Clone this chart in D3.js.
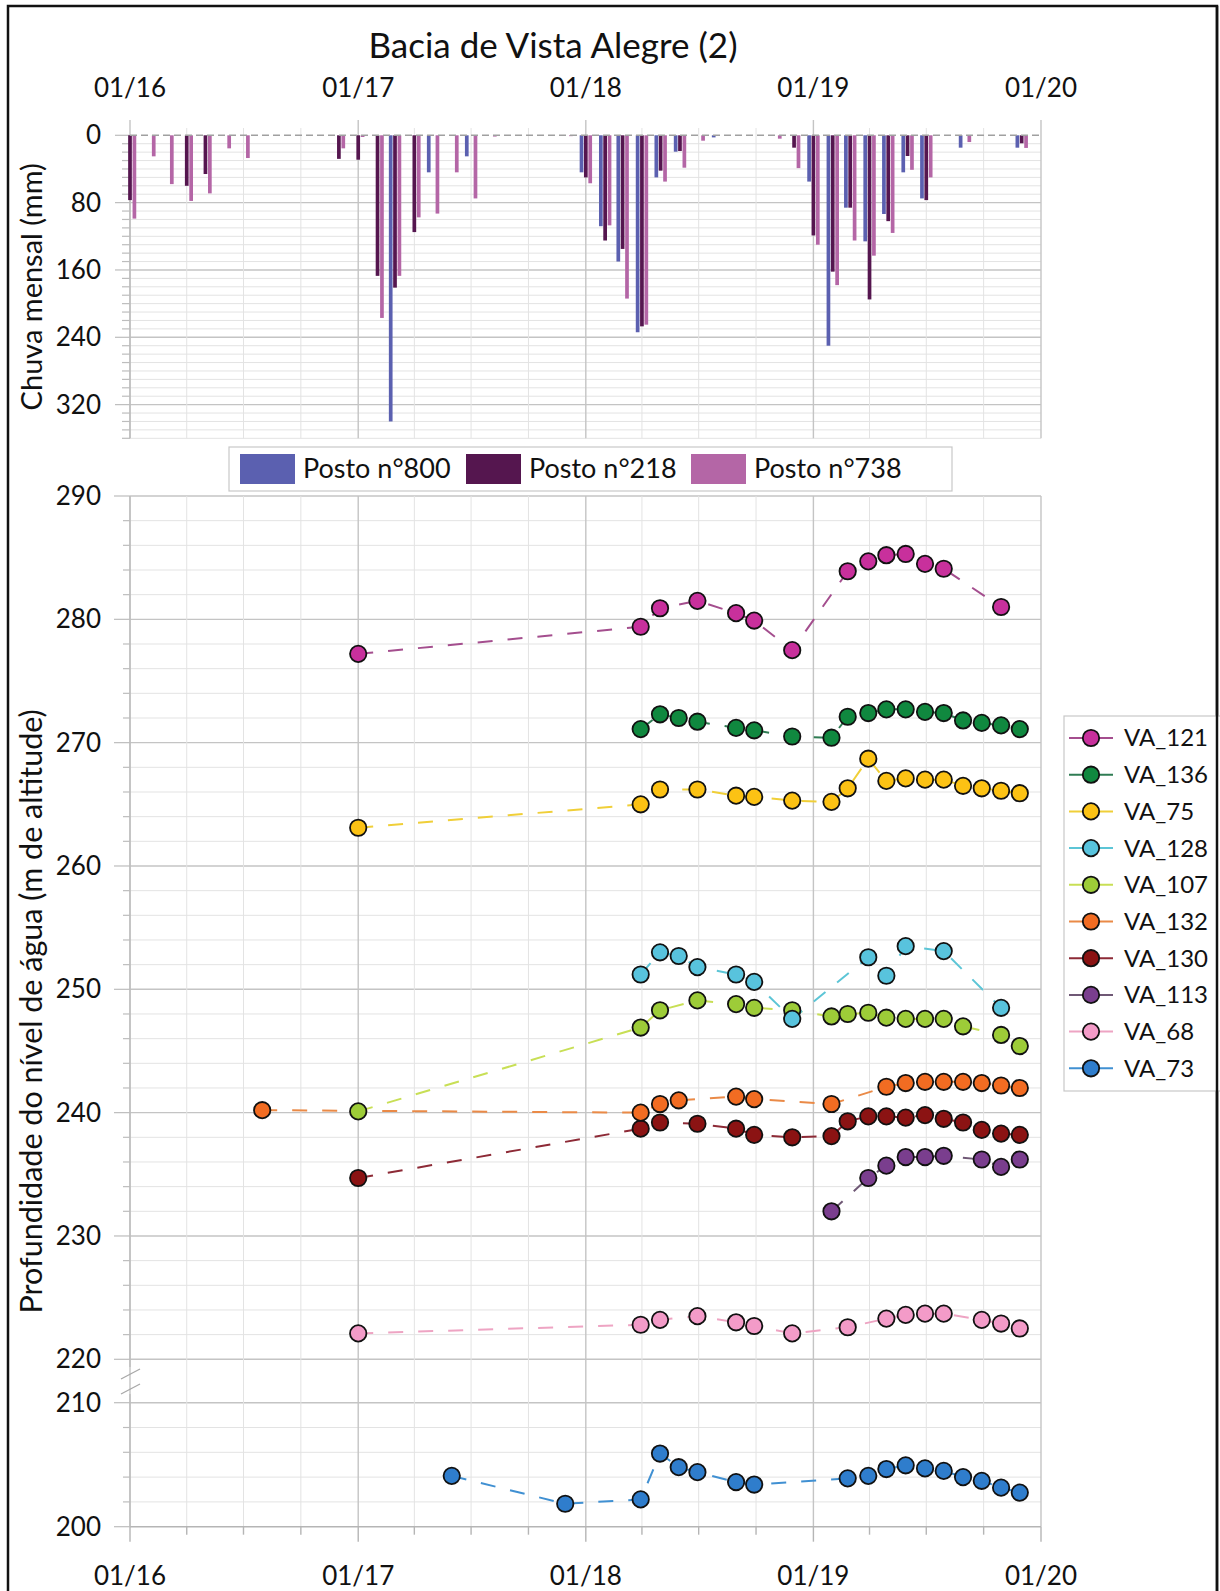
<!DOCTYPE html>
<html><head><meta charset="utf-8">
<script src="https://cdn.jsdelivr.net/npm/d3@7"></script>
<style>
body{margin:0;background:#fff}
svg text{font-family:Lato,"Open Sans",sans-serif;fill:#111}
</style>
</head><body>
<svg id="chart" width="1220" height="1591"></svg>
<script>
// ---------------- DATA ----------------
const chartTitle = "Bacia de Vista Alegre (2)";
const xTickLabels = ["01/16","01/17","01/18","01/19","01/20"];
const xTickDates = ["2016-01-01","2017-01-01","2018-01-01","2019-01-01","2020-01-01"];
const rainTicks = [0,80,160,240,320];
const levelTicks = [200,210,220,230,240,250,260,270,280,290];

// monthly rainfall (mm), Jan 2016 .. Dec 2019
const rainMonths = d3.range(48).map(i => d3.timeFormat("%Y-%m-%d")(new Date(2016, i, 1)));
const posto800 = [
  0,0,0,0,0,0,0,0,0,0,0,0,
  0,0,340,0,44,0,25,0,0,0,0,0,
  44,108,150,234,50,19.5,0,2.5,0,0,0,0,
  55,250,86,126,93.5,44,75,0,14.7,0,0,14.7];
const posto218 = [
  77,0,0,60,46,0,0,0,0,0,0,28,
  29,167,181,115,0,0,0,0,0,0,0,0,
  50,125,135,227,42,18.7,0,0,0,0,0,14.7,
  119,162,86,195,102,24.6,77,0,0,0,0,9.5];
const posto738 = [
  99,25,58,78,69,15.5,27,0,0,0,0,15.5,
  2,217,167,97.5,93,44,75,1.5,0,0,0,1,
  57,107,194,225,55,38.5,6.4,0,0,0,4,39,
  130,178,125,143,116,41,50,0,8,0,0,15];
const rainSeriesNames = ["Posto n°800","Posto n°218","Posto n°738"];

// groundwater level (m), [date, value]
const va121 = [["2017-01-01",277.2],["2018-03-30",279.4],["2018-04-30",280.9],["2018-06-29",281.5],["2018-08-30",280.5],["2018-09-28",279.9],["2018-11-28",277.5],["2019-02-25",283.9],["2019-03-30",284.7],["2019-04-28",285.2],["2019-05-29",285.3],["2019-06-29",284.5],["2019-07-29",284.1],["2019-10-29",281.0]];
const va136 = [["2018-03-30",271.1],["2018-04-30",272.3],["2018-05-30",272.0],["2018-06-29",271.7],["2018-08-30",271.2],["2018-09-28",271.0],["2018-11-28",270.5],["2019-01-30",270.4],["2019-02-25",272.1],["2019-03-30",272.4],["2019-04-28",272.7],["2019-05-29",272.7],["2019-06-29",272.5],["2019-07-29",272.4],["2019-08-29",271.8],["2019-09-28",271.6],["2019-10-29",271.4],["2019-11-28",271.1]];
const va75 = [["2017-01-01",263.1],["2018-03-30",265.0],["2018-04-30",266.2],["2018-06-29",266.2],["2018-08-30",265.7],["2018-09-28",265.6],["2018-11-28",265.3],["2019-01-30",265.2],["2019-02-25",266.3],["2019-03-30",268.7],["2019-04-28",266.9],["2019-05-29",267.1],["2019-06-29",267.0],["2019-07-29",267.0],["2019-08-29",266.5],["2019-09-28",266.3],["2019-10-29",266.1],["2019-11-28",265.9]];
const va128 = [["2018-03-30",251.2],["2018-04-30",253.0],["2018-05-30",252.7],["2018-06-29",251.8],["2018-08-30",251.2],["2018-09-28",250.6],["2018-11-28",247.6],["2019-03-30",252.6],["2019-04-28",251.1],["2019-05-29",253.5],["2019-07-29",253.1],["2019-10-29",248.5]];
const va107 = [["2017-01-01",240.1],["2018-03-30",246.9],["2018-04-30",248.3],["2018-06-29",249.1],["2018-08-30",248.8],["2018-09-28",248.5],["2018-11-28",248.3],["2019-01-30",247.8],["2019-02-25",248.0],["2019-03-30",248.1],["2019-04-28",247.7],["2019-05-29",247.6],["2019-06-29",247.6],["2019-07-29",247.6],["2019-08-29",247.0],["2019-10-29",246.3],["2019-11-28",245.4]];
const va132 = [["2016-07-31",240.2],["2018-03-30",240.0],["2018-04-30",240.7],["2018-05-30",241.0],["2018-08-30",241.3],["2018-09-28",241.1],["2019-01-30",240.7],["2019-04-28",242.1],["2019-05-29",242.4],["2019-06-29",242.5],["2019-07-29",242.5],["2019-08-29",242.5],["2019-09-28",242.4],["2019-10-29",242.2],["2019-11-28",242.0]];
const va130 = [["2017-01-01",234.7],["2018-03-30",238.7],["2018-04-30",239.2],["2018-06-29",239.1],["2018-08-30",238.7],["2018-09-28",238.2],["2018-11-28",238.0],["2019-01-30",238.1],["2019-02-25",239.3],["2019-03-30",239.7],["2019-04-28",239.7],["2019-05-29",239.6],["2019-06-29",239.8],["2019-07-29",239.5],["2019-08-29",239.2],["2019-09-28",238.6],["2019-10-29",238.3],["2019-11-28",238.2]];
const va113 = [["2019-01-30",232.0],["2019-03-30",234.7],["2019-04-28",235.7],["2019-05-29",236.4],["2019-06-29",236.4],["2019-07-29",236.5],["2019-09-28",236.2],["2019-10-29",235.6],["2019-11-28",236.2]];
const va68 = [["2017-01-01",222.1],["2018-03-30",222.8],["2018-04-30",223.2],["2018-06-29",223.5],["2018-08-30",223.0],["2018-09-28",222.7],["2018-11-28",222.1],["2019-02-25",222.6],["2019-04-28",223.3],["2019-05-29",223.6],["2019-06-29",223.7],["2019-07-29",223.7],["2019-09-28",223.2],["2019-10-29",222.9],["2019-11-28",222.5]];
const va73 = [["2017-05-31",204.1],["2017-11-29",201.85],["2018-03-30",202.2],["2018-04-30",205.9],["2018-05-30",204.8],["2018-06-29",204.4],["2018-08-30",203.6],["2018-09-28",203.4],["2019-02-25",203.9],["2019-03-30",204.1],["2019-04-28",204.65],["2019-05-29",204.95],["2019-06-29",204.7],["2019-07-29",204.5],["2019-08-29",204.0],["2019-09-28",203.7],["2019-10-29",203.15],["2019-11-28",202.75]];
const wellNames = ["VA_121","VA_136","VA_75","VA_128","VA_107","VA_132","VA_130","VA_113","VA_68","VA_73"];
const wellData = [va121,va136,va75,va128,va107,va132,va130,va113,va68,va73];

// ---------------- STYLES ----------------
const rainColors = ["#5b60b0","#55164f","#b466a6"];
const wellFill = ["#c8309c","#10883f","#fcc214","#58c3dd","#9dcc38","#f26c22","#8b1313","#7a3e8e","#f39bc8","#2f7dcc"];
const wellLine = ["#a44e8e","#2f7c53","#f0cf38","#5cc5d6","#c8df55","#ea8a47","#8d2a36","#6f5875","#eea4c3","#4090d2"];

const parse = d3.timeParse("%Y-%m-%d");
const svg = d3.select("#chart");
const GRID_MINOR = "#e3e3e3", GRID_MAJOR = "#c4c4c4";

// outer frame
svg.append("rect").attr("x",8).attr("y",6).attr("width",1209).attr("height",1600)
  .attr("fill","none").attr("stroke","#111").attr("stroke-width",2.5);

const x = d3.scaleTime().domain([parse("2016-01-01"), parse("2020-01-01")]).range([130, 1041]);
const quarters = x.ticks(d3.timeMonth.every(3));
const isYear = d => d.getMonth() === 0;

// title
svg.append("text").attr("x",553).attr("y",58).attr("text-anchor","middle")
  .style("font-size","35px").text(chartTitle);

// ================= TOP: rainfall =================
const yR = d3.scaleLinear().domain([0,360]).range([135.3, 438.3]);
const gTop = svg.append("g");
gTop.selectAll("line.hg").data(d3.range(10,361,10)).join("line")
  .attr("x1",130).attr("x2",1041).attr("y1",d=>yR(d)).attr("y2",d=>yR(d))
  .attr("stroke",d=>d%80===0?GRID_MAJOR:GRID_MINOR).attr("stroke-width",d=>d%80===0?1.4:1);
gTop.selectAll("line.vg").data(quarters).join("line")
  .attr("x1",d=>x(d)).attr("x2",d=>x(d)).attr("y1",d=>isYear(d)?120:128).attr("y2",yR(360))
  .attr("stroke",d=>isYear(d)?GRID_MAJOR:GRID_MINOR).attr("stroke-width",d=>isYear(d)?1.4:1);
gTop.append("line").attr("x1",130).attr("x2",130).attr("y1",yR(0)).attr("y2",yR(360)).attr("stroke","#bdbdbd").attr("stroke-width",1.4);
gTop.selectAll("line.yt").data(d3.range(0,361,10)).join("line")
  .attr("x1",d=>d%80===0?115:122).attr("x2",130).attr("y1",d=>yR(d)).attr("y2",d=>yR(d))
  .attr("stroke","#bdbdbd").attr("stroke-width",1.2);
gTop.selectAll("text.yl").data(rainTicks).join("text")
  .attr("x",101).attr("y",d=>yR(d)).attr("dy","0.35em").attr("text-anchor","end")
  .style("font-size","26px").text(d=>d);
gTop.selectAll("text.xl").data(xTickDates).join("text")
  .attr("x",d=>x(parse(d))).attr("y",97).attr("text-anchor","middle")
  .style("font-size","26px").text((d,i)=>xTickLabels[i]);
const barW = 3.7, barOff = [-4.3, 0, 4.4];
[posto800,posto218,posto738].forEach((arr,si)=>{
  gTop.append("g").selectAll("rect").data(arr.map((v,i)=>[rainMonths[i],v]).filter(d=>d[1]>0)).join("rect")
    .attr("x",d=>x(parse(d[0]))+barOff[si]-barW/2).attr("width",barW)
    .attr("y",yR(0)).attr("height",d=>yR(d[1])-yR(0)).attr("fill",rainColors[si]);
});
gTop.append("line").attr("x1",130).attr("x2",1041).attr("y1",yR(0)).attr("y2",yR(0))
  .attr("stroke","#a0a0a0").attr("stroke-width",1.4).attr("stroke-dasharray","7,4");
svg.append("text").attr("transform","translate(42,"+(yR(0)+yR(360))/2+") rotate(-90)")
  .attr("text-anchor","middle").style("font-size","29px").text("Chuva mensal (mm)");

// rain legend
const rl = svg.append("g");
rl.append("rect").attr("x",229).attr("y",447).attr("width",723).attr("height",44)
  .attr("fill","#fff").attr("stroke","#c8c8c8").attr("stroke-width",1.2);
const rlX = [240, 466, 691];
rainSeriesNames.forEach((n,i)=>{
  rl.append("rect").attr("x",rlX[i]).attr("y",454).attr("width",55).attr("height",30).attr("fill",rainColors[i]);
  rl.append("text").attr("x",rlX[i]+63).attr("y",469).attr("dy","0.35em").style("font-size","27px").text(n);
});

// ================= BOTTOM: levels =================
const yL = d3.scaleLinear().domain([200,210,220,290]).range([1526.7,1402.7,1359.3,496]);
const gB = svg.append("g");
const hLines = d3.range(202,211,2).concat(d3.range(220,291,2));
gB.selectAll("line.hg").data(hLines).join("line")
  .attr("x1",130).attr("x2",1041).attr("y1",d=>yL(d)).attr("y2",d=>yL(d))
  .attr("stroke",d=>d%10===0?GRID_MAJOR:GRID_MINOR).attr("stroke-width",d=>d%10===0?1.4:1);
gB.selectAll("line.vg").data(quarters).join("line")
  .attr("x1",d=>x(d)).attr("x2",d=>x(d)).attr("y1",yL(290)).attr("y2",yL(200))
  .attr("stroke",d=>isYear(d)?GRID_MAJOR:GRID_MINOR).attr("stroke-width",d=>isYear(d)?1.4:1);
gB.append("line").attr("x1",130).attr("x2",1041).attr("y1",yL(200)).attr("y2",yL(200)).attr("stroke","#b5b5b5").attr("stroke-width",1.5);
gB.selectAll("line.xt").data(quarters).join("line")
  .attr("x1",d=>x(d)).attr("x2",d=>x(d)).attr("y1",yL(200)).attr("y2",d=>yL(200)+(isYear(d)?15:8))
  .attr("stroke","#b5b5b5").attr("stroke-width",1.4);
gB.selectAll("text.xl").data(xTickDates).join("text")
  .attr("x",d=>x(parse(d))).attr("y",1576).attr("dy","0.35em").attr("text-anchor","middle")
  .style("font-size","26px").text((d,i)=>xTickLabels[i]);
gB.append("line").attr("x1",130).attr("x2",130).attr("y1",yL(290)).attr("y2",1367).attr("stroke","#bdbdbd").attr("stroke-width",1.4);
gB.append("line").attr("x1",130).attr("x2",130).attr("y1",1394).attr("y2",yL(200)).attr("stroke","#bdbdbd").attr("stroke-width",1.4);
gB.append("line").attr("x1",121).attr("x2",140).attr("y1",1379).attr("y2",1369).attr("stroke","#a8a8a8").attr("stroke-width",1.3);
gB.append("line").attr("x1",121).attr("x2",140).attr("y1",1394).attr("y2",1384).attr("stroke","#a8a8a8").attr("stroke-width",1.3);
gB.selectAll("line.yt").data(hLines.concat([200])).join("line")
  .attr("x1",d=>d%10===0?114:123).attr("x2",130).attr("y1",d=>yL(d)).attr("y2",d=>yL(d))
  .attr("stroke","#bdbdbd").attr("stroke-width",1.2);
gB.selectAll("text.yl").data(levelTicks).join("text")
  .attr("x",101).attr("y",d=>yL(d)).attr("dy","0.35em").attr("text-anchor","end")
  .style("font-size","26px").text(d=>d);
svg.append("text").attr("transform","translate(42,"+(yL(290)+yL(200))/2+") rotate(-90)")
  .attr("text-anchor","middle").style("font-size","30.5px").text("Profundidade do nível de água (m de altitude)");

const lineGen = d3.line().x(d=>x(parse(d[0]))).y(d=>yL(d[1]));
const order = d3.range(wellData.length).reverse();
order.forEach(i=>{
  gB.append("path").datum(wellData[i]).attr("d",lineGen).attr("fill","none")
    .attr("stroke",wellLine[i]).attr("stroke-width",2).attr("stroke-dasharray","15,15");
});
order.forEach(i=>{
  gB.append("g").selectAll("circle").data(wellData[i]).join("circle")
    .attr("cx",d=>x(parse(d[0]))).attr("cy",d=>yL(d[1])).attr("r",8.2)
    .attr("fill",wellFill[i]).attr("stroke","#111").attr("stroke-width",1.8);
});

// well legend
const lg = svg.append("g");
lg.append("rect").attr("x",1064).attr("y",716).attr("width",170).attr("height",375)
  .attr("fill","#fff").attr("stroke","#c8c8c8").attr("stroke-width",1.2);
wellNames.forEach((n,i)=>{
  const yy = 738 + i*36.7;
  lg.append("line").attr("x1",1069).attr("x2",1113).attr("y1",yy).attr("y2",yy).attr("stroke",wellLine[i]).attr("stroke-width",2);
  lg.append("circle").attr("cx",1091).attr("cy",yy).attr("r",8.2).attr("fill",wellFill[i]).attr("stroke","#111").attr("stroke-width",1.8);
  lg.append("text").attr("x",1124).attr("y",yy).attr("dy","0.35em").style("font-size","24px").text(n);
});
svg.append("line").attr("x1",1217).attr("x2",1217).attr("y1",6).attr("y2",1591).attr("stroke","#111").attr("stroke-width",2.5);
</script>
</body></html>
